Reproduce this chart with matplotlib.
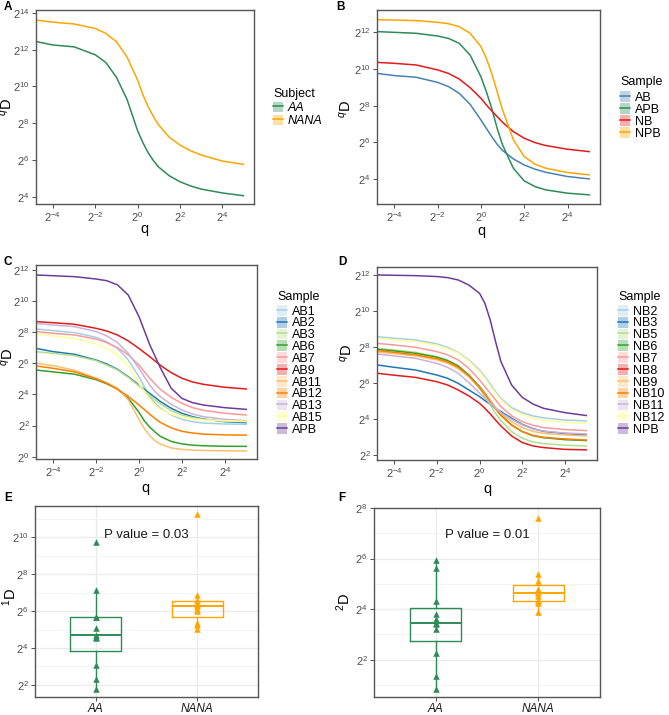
import numpy as np
import matplotlib.pyplot as plt
from matplotlib.lines import Line2D
from matplotlib.patches import Patch
from matplotlib.ticker import FixedLocator, FuncFormatter, NullLocator

plt.rcParams['font.family'] = ['Liberation Sans', 'DejaVu Sans']
plt.rcParams['mathtext.fontset'] = 'custom'
plt.rcParams['mathtext.rm'] = 'Liberation Sans'
plt.rcParams['mathtext.it'] = 'Liberation Sans:italic'
plt.rcParams['mathtext.bf'] = 'Liberation Sans:bold'

# ---- data (log2 values) ----
q_log2 = [-4.8, -4, -3, -2, -1.5, -1, -0.5, 0, 0.25, 0.5, 0.75, 1, 1.5, 2, 2.5, 3, 4, 5]

# panel A: subjects
a_aa = [12.44, 12.25, 12.15, 11.72, 11.3, 10.5, 9.3, 7.6, 6.95, 6.4, 5.97, 5.62, 5.15, 4.83, 4.6, 4.43, 4.22, 4.07]
a_nana = [13.6, 13.49, 13.39, 13.15, 12.88, 12.43, 11.6, 10.35, 9.55, 8.9, 8.36, 7.9, 7.24, 6.82, 6.51, 6.28, 5.95, 5.77]

# panel B: pooled samples
b_ab = [9.76, 9.64, 9.55, 9.27, 9.04, 8.67, 8.07, 7.22, 6.76, 6.31, 5.89, 5.55, 5.09, 4.76, 4.53, 4.36, 4.13, 4.0]
b_apb = [12.04, 12.0, 11.95, 11.8, 11.67, 11.4, 10.76, 9.58, 8.76, 7.85, 6.76, 5.85, 4.58, 3.89, 3.58, 3.4, 3.22, 3.13]
b_nb = [10.36, 10.31, 10.22, 9.95, 9.76, 9.45, 8.98, 8.4, 8.04, 7.71, 7.4, 7.09, 6.58, 6.22, 5.98, 5.82, 5.62, 5.49]
b_npb = [12.69, 12.67, 12.64, 12.55, 12.47, 12.31, 11.95, 11.22, 10.58, 9.76, 8.76, 7.76, 6.13, 5.22, 4.8, 4.58, 4.35, 4.22]

# panel C: AA samples
c_ab1 = [8.21, 8.1, 7.97, 7.67, 7.39, 6.96, 6.21, 5.14, 4.5, 3.86, 3.43, 3.11, 2.68, 2.4, 2.25, 2.16, 2.1, 2.08]
c_ab2 = [6.96, 6.75, 6.58, 6.21, 5.96, 5.61, 5.14, 4.61, 4.33, 4.07, 3.81, 3.54, 3.11, 2.79, 2.57, 2.42, 2.25, 2.19]
c_ab3 = [6.75, 6.64, 6.49, 6.17, 5.89, 5.57, 5.1, 4.54, 4.24, 3.94, 3.64, 3.39, 2.96, 2.68, 2.51, 2.4, 2.29, 2.25]
c_ab6 = [5.57, 5.45, 5.3, 4.95, 4.68, 4.35, 3.75, 2.85, 2.3, 1.9, 1.58, 1.3, 0.98, 0.82, 0.74, 0.7, 0.67, 0.66]
c_ab7 = [8.04, 7.93, 7.82, 7.56, 7.33, 7.0, 6.54, 5.89, 5.46, 5.04, 4.67, 4.33, 3.81, 3.43, 3.15, 2.98, 2.79, 2.68]
c_ab9 = [8.68, 8.61, 8.51, 8.25, 8.08, 7.82, 7.44, 6.96, 6.69, 6.43, 6.15, 5.87, 5.4, 5.04, 4.8, 4.65, 4.46, 4.35]
c_ab11 = [6.0, 5.85, 5.55, 5.05, 4.75, 4.4, 3.65, 2.4, 1.8, 1.35, 1.02, 0.8, 0.56, 0.47, 0.42, 0.4, 0.38, 0.36]
c_ab12 = [5.83, 5.68, 5.45, 5.0, 4.72, 4.33, 3.88, 3.32, 3.03, 2.73, 2.45, 2.2, 1.85, 1.63, 1.52, 1.45, 1.4, 1.38]
c_ab13 = [8.57, 8.46, 8.36, 8.04, 7.76, 7.33, 6.64, 5.68, 5.14, 4.61, 4.18, 3.86, 3.36, 3.0, 2.74, 2.57, 2.4, 2.31]
c_ab15 = [7.89, 7.76, 7.59, 7.24, 6.96, 6.54, 5.79, 4.71, 4.18, 3.69, 3.32, 3.04, 2.72, 2.53, 2.42, 2.36, 2.31, 2.27]
c_apb = [11.68, 11.63, 11.57, 11.42, 11.31, 11.04, 10.39, 9.0, 8.1, 7.2, 6.45, 5.7, 4.4, 3.75, 3.47, 3.32, 3.15, 3.04]

# panel D: NANA samples
d_nb2 = [8.57, 8.48, 8.39, 8.17, 7.98, 7.69, 7.28, 6.72, 6.35, 5.94, 5.52, 5.15, 4.63, 4.35, 4.17, 4.06, 3.94, 3.89]
d_nb3 = [7.0, 6.87, 6.72, 6.44, 6.26, 5.98, 5.61, 5.24, 5.02, 4.81, 4.59, 4.41, 4.04, 3.7, 3.46, 3.31, 3.19, 3.11]
d_nb5 = [7.93, 7.83, 7.7, 7.46, 7.28, 6.96, 6.44, 5.7, 5.24, 4.78, 4.31, 3.91, 3.3, 2.93, 2.72, 2.63, 2.54, 2.5]
d_nb6 = [7.87, 7.78, 7.65, 7.43, 7.24, 6.94, 6.44, 5.8, 5.43, 5.02, 4.59, 4.22, 3.67, 3.3, 3.07, 2.96, 2.85, 2.8]
d_nb7 = [8.2, 8.11, 7.98, 7.74, 7.56, 7.28, 6.81, 6.17, 5.8, 5.43, 5.06, 4.69, 4.17, 3.85, 3.65, 3.52, 3.41, 3.35]
d_nb8 = [6.54, 6.43, 6.31, 6.07, 5.89, 5.61, 5.28, 4.87, 4.59, 4.28, 3.94, 3.61, 3.06, 2.69, 2.5, 2.41, 2.31, 2.28]
d_nb9 = [7.72, 7.63, 7.5, 7.28, 7.09, 6.8, 6.35, 5.74, 5.39, 5.02, 4.65, 4.31, 3.85, 3.52, 3.31, 3.2, 3.11, 3.06]
d_nb10 = [7.8, 7.7, 7.57, 7.35, 7.17, 6.87, 6.39, 5.74, 5.37, 4.96, 4.56, 4.19, 3.65, 3.3, 3.09, 2.98, 2.89, 2.83]
d_nb11 = [7.61, 7.5, 7.37, 7.09, 6.87, 6.54, 6.02, 5.43, 5.15, 4.87, 4.59, 4.35, 3.98, 3.67, 3.44, 3.33, 3.22, 3.17]
d_nb12 = [8.48, 8.39, 8.3, 8.09, 7.91, 7.65, 7.22, 6.63, 6.26, 5.83, 5.43, 5.06, 4.54, 4.24, 4.04, 3.93, 3.81, 3.76]
d_npb = [12.0, 11.98, 11.96, 11.91, 11.85, 11.72, 11.44, 10.98, 10.43, 9.5, 8.3, 7.19, 5.89, 5.2, 4.83, 4.59, 4.35, 4.19]

# panels E/F: log2 of 1D and 2D per sample
groups = ['AA', 'NANA']
e_aa = [1.78, 2.32, 3.1, 4.55, 4.6, 4.72, 5.07, 5.67, 5.67, 7.16, 9.71]
e_nana = [5.04, 5.25, 5.34, 6.0, 6.1, 6.25, 6.4, 6.45, 6.6, 6.85, 11.23]
f_aa = [0.82, 1.34, 2.26, 3.22, 3.41, 3.43, 3.61, 3.81, 4.30, 5.64, 5.93]
f_nana = [3.87, 4.26, 4.3, 4.36, 4.53, 4.63, 4.72, 4.79, 5.11, 5.38, 7.61]
p_e = 'P value = 0.03'
p_f = 'P value = 0.01'

# ---- styling ----
GREEN = '#2E8B57'
ORANGE = '#FFA500'
BLUE = '#4682B4'
RED = '#E41A1C'
PAIRED = ['#A6CEE3', '#1F78B4', '#B2DF8A', '#33A02C', '#FB9A99', '#E31A1C',
          '#FDBF6F', '#FF7F00', '#CAB2D6', '#FFFF99', '#6A3D9A']
TICKC = '#4D4D4D'
W, H = 669, 715

fig = plt.figure(figsize=(W / 100, H / 100), dpi=100)


def add_ax(l, t, r, b):
    ax = fig.add_axes([l / W, 1 - b / H, (r - l) / W, (b - t) / H])
    for s in ax.spines.values():
        s.set_color('#555555')
        s.set_linewidth(1.0)
    ax.tick_params(length=3, width=0.6, color='#333333', labelcolor=TICKC, labelsize=8, pad=1.5)
    return ax


pow2 = FuncFormatter(lambda v, _: '$2^{%d}$' % int(round(np.log2(v))))


def profile_ax(l, t, r, b, ylim, yticks):
    ax = add_ax(l, t, r, b)
    ax.set_xscale('log', base=2)
    ax.set_yscale('log', base=2)
    ax.set_xlim(2 ** -4.8, 2 ** 5.5)
    ax.set_ylim(2 ** ylim[0], 2 ** ylim[1])
    ax.xaxis.set_major_locator(FixedLocator([2.0 ** k for k in (-4, -2, 0, 2, 4)]))
    ax.yaxis.set_major_locator(FixedLocator([2.0 ** k for k in yticks]))
    ax.xaxis.set_major_formatter(pow2)
    ax.yaxis.set_major_formatter(pow2)
    ax.xaxis.set_minor_locator(NullLocator())
    ax.yaxis.set_minor_locator(NullLocator())
    return ax


def draw(ax, series):
    q = 2.0 ** np.array(q_log2)
    handles = []
    for label, vals, col in series:
        ax.plot(q, 2.0 ** np.array(vals), color=col, lw=1.1)
        handles.append((Patch(facecolor=col, alpha=0.35, edgecolor='none'),
                        Line2D([0], [0], color=col, lw=1.1)))
    return handles


def legend(handles, labels, title, x, ytitle, ytop, spacing, italic=False):
    fig.text(x / W, 1 - ytitle / H, title, ha='left', va='center', fontsize=9)
    prop = {'size': 9}
    if italic:
        prop['style'] = 'italic'
    fig.legend(handles, labels, loc='upper left', bbox_to_anchor=(x / W, 1 - ytop / H),
               frameon=False, prop=prop,
               handlelength=0.8, handleheight=0.95, labelspacing=spacing,
               handletextpad=0.4, borderpad=0, borderaxespad=0)


def label(x, y, s, **kw):
    fig.text(x / W, 1 - y / H, s, ha='center', va='center', **kw)


# ---- A ----
axA = profile_ax(36, 10, 254, 204, (3.62, 14.15), (4, 6, 8, 10, 12, 14))
hA = draw(axA, [('AA', a_aa, GREEN), ('NANA', a_nana, ORANGE)])
legend(hA, ['AA', 'NANA'], 'Subject', 273, 94, 101.5, 0.03, italic=True)

# ---- B ----
axB = profile_ax(377, 10, 600, 204, (2.63, 13.22), (4, 6, 8, 10, 12))
hB = draw(axB, [('AB', b_ab, BLUE), ('APB', b_apb, GREEN), ('NB', b_nb, RED), ('NPB', b_npb, ORANGE)])
legend(hB, ['AB', 'APB', 'NB', 'NPB'], 'Sample', 620, 82, 91, -0.05)

# ---- C ----
c_names = ['AB1', 'AB2', 'AB3', 'AB6', 'AB7', 'AB9', 'AB11', 'AB12', 'AB13', 'AB15', 'APB']
c_vals = [c_ab1, c_ab2, c_ab3, c_ab6, c_ab7, c_ab9, c_ab11, c_ab12, c_ab13, c_ab15, c_apb]
axC = profile_ax(36, 265, 257, 459, (-0.15, 12.32), (0, 2, 4, 6, 8, 10, 12))
hC = draw(axC, list(zip(c_names, c_vals, PAIRED)))
legend(hC, c_names, 'Sample', 277, 297, 305, -0.07)

# ---- D ----
d_names = ['NB2', 'NB3', 'NB5', 'NB6', 'NB7', 'NB8', 'NB9', 'NB10', 'NB11', 'NB12', 'NPB']
d_vals = [d_nb2, d_nb3, d_nb5, d_nb6, d_nb7, d_nb8, d_nb9, d_nb10, d_nb11, d_nb12, d_npb]
axD = profile_ax(377, 267, 597, 460, (1.72, 12.44), (2, 4, 6, 8, 10, 12))
hD = draw(axD, list(zip(d_names, d_vals, PAIRED)))
legend(hD, d_names, 'Sample', 618, 297, 305, -0.07)


# ---- E / F boxplots (y is log2 of diversity) ----
def box_ax(l, t, r, b, aa, nana, ylim, major, minor, ptext, py):
    ax = add_ax(l, t, r, b)
    ax.set_xlim(0.4, 2.6)
    ax.set_ylim(*ylim)
    ax.set_xticks([1, 2])
    ax.set_xticklabels(groups, fontstyle='italic', fontsize=8.5, color='#1A1A1A')
    ax.yaxis.set_major_locator(FixedLocator(major))
    ax.yaxis.set_minor_locator(FixedLocator(minor))
    ax.yaxis.set_major_formatter(FuncFormatter(lambda v, _: '$2^{%d}$' % int(v)))
    ax.tick_params(axis='y', which='minor', length=0)
    ax.grid(True, which='major', color='#EBEBEB', lw=0.9)
    ax.grid(True, which='minor', axis='y', color='#F2F2F2', lw=0.6)
    ax.set_axisbelow(True)
    for pos, vals, col in ((1, aa, GREEN), (2, nana, ORANGE)):
        bp = ax.boxplot([vals], positions=[pos], widths=0.5, showfliers=False,
                        showcaps=False, whis=1.5, manage_ticks=False)
        for k in ('boxes', 'whiskers', 'medians'):
            for art in bp[k]:
                art.set_color(col)
                art.set_linewidth(1.0)
        for art in bp['medians']:
            art.set_linewidth(1.4)
        ax.scatter([pos] * len(vals), vals, marker='^', s=22, color=col, zorder=3, linewidths=0)
    ax.text(1.5, py, ptext, ha='center', va='center', fontsize=9.5, color='#1A1A1A')
    return ax


box_ax(35, 506, 258, 697, e_aa, e_nana, (1.35, 11.68), [2, 4, 6, 8, 10], [3, 5, 7, 9, 11], p_e, 10.1)
box_ax(374, 508, 600, 697, f_aa, f_nana, (0.52, 8.0), [2, 4, 6, 8], [1, 3, 5, 7], p_f, 6.93)

# ---- axis titles and panel letters ----
for x, y in ((144, 229), (481, 231), (145, 488), (487, 489)):
    label(x, y, 'q', fontsize=10.5)
for x, y, s in ((7, 107, '$^{q}$D'), (346, 109, '$^{q}$D'), (8, 357, '$^{q}$D'),
                (347, 353, '$^{q}$D'), (10, 597, '$^{1}$D'), (344, 602, '$^{2}$D')):
    label(x, y, s, fontsize=10.5, rotation=90)
for x, y, s in ((8, 7, 'A'), (341, 7, 'B'), (8, 262, 'C'), (342, 262, 'D'),
                (8, 498, 'E'), (342, 498, 'F')):
    label(x, y, s, fontsize=8.5, fontweight='bold')

fig.savefig('out.png', dpi=100)
